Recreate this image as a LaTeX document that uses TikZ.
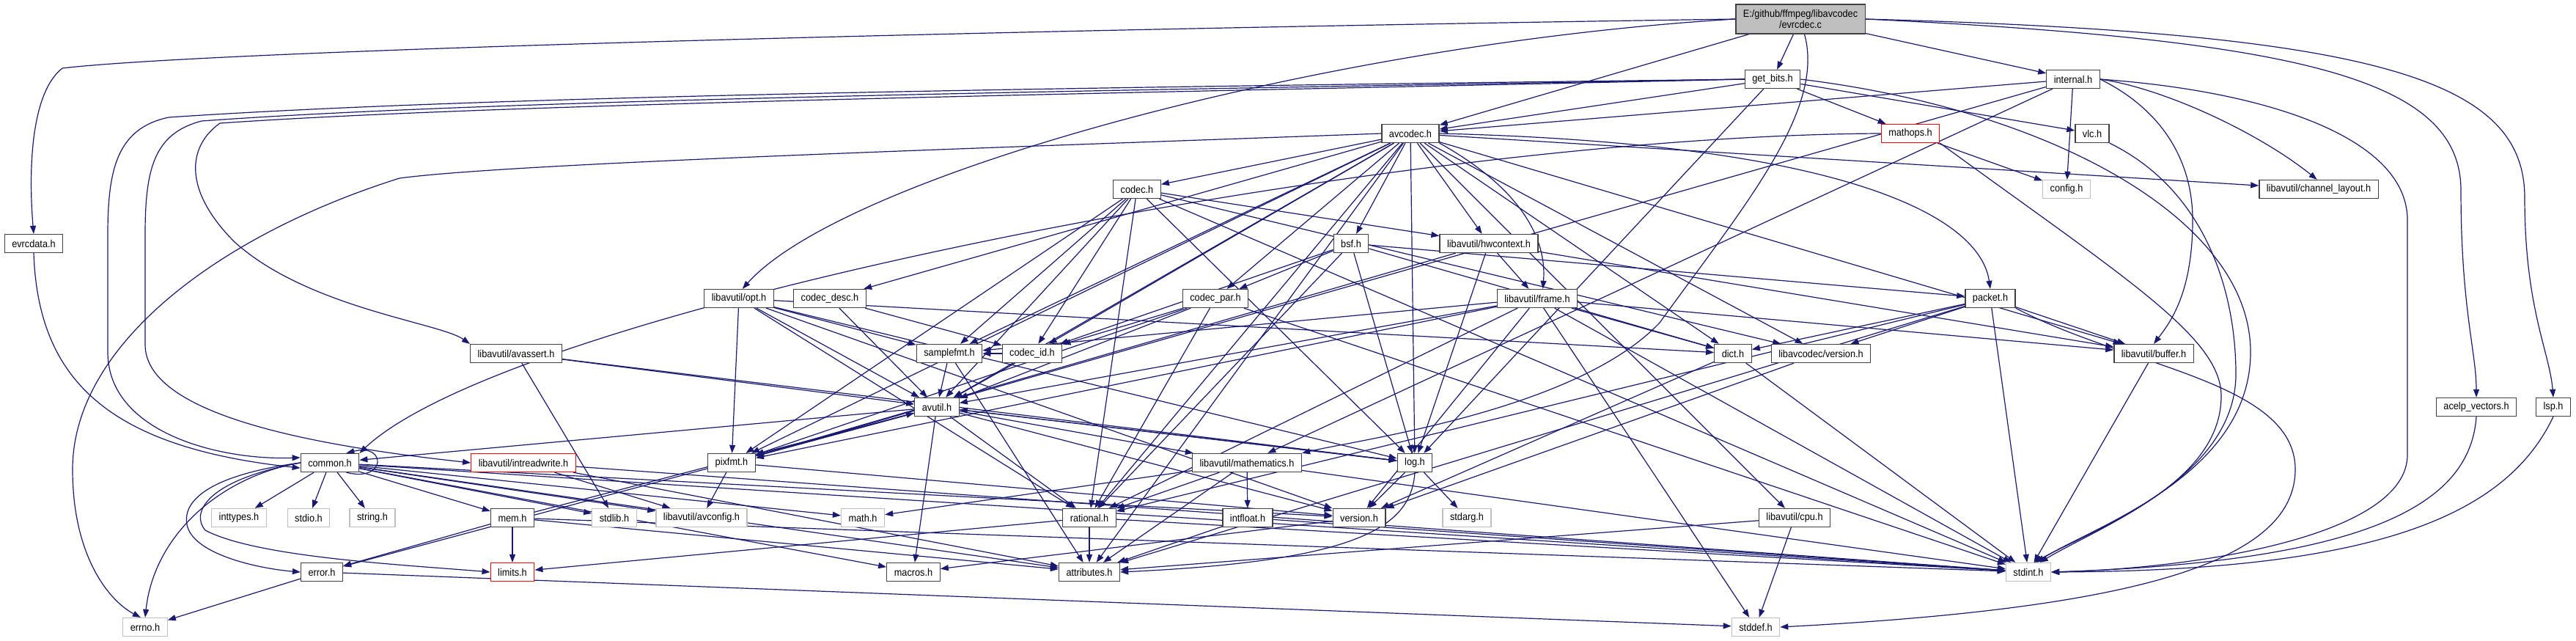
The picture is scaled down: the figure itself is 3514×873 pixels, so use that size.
\documentclass[tikz,border=0pt]{standalone}
\usepackage{fontspec}
\setmainfont{Liberation Sans}[FakeStretch=0.91]
\usetikzlibrary{arrows.meta}
\pgfdeclarelayer{bg}
\pgfsetlayers{bg,main}
\definecolor{edgec}{RGB}{25,25,112}
\definecolor{lgray}{RGB}{191,191,191}
\definecolor{nborder}{RGB}{64,64,64}
\begin{document}
\begin{tikzpicture}[x=1pt,y=-1pt,
  nb/.style={draw=nborder,line width=1.3pt,fill=white,inner xsep=10pt,inner ysep=0pt,
    minimum height=25pt,font=\fontsize{14}{15}\selectfont},
  ng/.style={nb,draw=lgray},
  nr/.style={nb,draw=red},
  edg/.style={draw=edgec,line width=1.2pt,-{Triangle[length=11pt,width=8pt]}}]
\useasboundingbox (0,0) rectangle (3514,873);
% nodes
\node[nb,fill=lgray,align=center,minimum height=40pt] (root) at (2456,26) {E:/github/ffmpeg/libavcodec\\/evrcdec.c};
\node[nb] (evr) at (46,332) {evrcdata.h};
\node[nb] (gb) at (2418,108) {get\_bits.h};
\node[nb] (intl) at (2828,108) {internal.h};
\node[nb] (avc) at (1924,182) {avcodec.h};
\node[nr] (mathops) at (2606,182) {mathops.h};
\node[nb] (vlc) at (2854,182) {vlc.h};
\node[nb] (codec) at (1551,258) {codec.h};
\node[ng] (config) at (2819,258) {config.h};
\node[nb] (chl) at (3163,258) {libavutil/channel\_layout.h};
\node[nb] (bsf) at (1843,332) {bsf.h};
\node[nb] (hwc) at (2031,332) {libavutil/hwcontext.h};
\node[nb] (opt) at (1008,407) {libavutil/opt.h};
\node[nb] (cdesc) at (1132,407) {codec\_desc.h};
\node[nb] (cpar) at (1658,407) {codec\_par.h};
\node[nb] (frame) at (2097,407) {libavutil/frame.h};
\node[nb] (packet) at (2715,407) {packet.h};
\node[nb] (avassert) at (704,482) {libavutil/avassert.h};
\node[nb] (sfmt) at (1295,482) {samplefmt.h};
\node[nb] (cid) at (1408,482) {codec\_id.h};
\node[nb] (dict) at (2364,482) {dict.h};
\node[nb] (lcver) at (2484,482) {libavcodec/version.h};
\node[nb] (buffer) at (2938,482) {libavutil/buffer.h};
\node[nb] (avutil) at (1278,555) {avutil.h};
\node[nb] (acelp) at (3378,555) {acelp\_vectors.h};
\node[nb] (lsp) at (3483,555) {lsp.h};
\node[nb] (common) at (450,631) {common.h};
\node[nr] (irw) at (714,631) {libavutil/intreadwrite.h};
\node[nb] (pixfmt) at (998,631) {pixfmt.h};
\node[nb] (math) at (1701,631) {libavutil/mathematics.h};
\node[nb] (log) at (1930,631) {log.h};
\node[ng] (inttypes) at (326,706) {inttypes.h};
\node[ng] (stdio) at (421,706) {stdio.h};
\node[ng] (string) at (508,706) {string.h};
\node[nb] (mem) at (699,706) {mem.h};
\node[ng] (stdlib) at (838,706) {stdlib.h};
\node[ng] (avconfig) at (957,706) {libavutil/avconfig.h};
\node[ng] (mathh) at (1177,706) {math.h};
\node[nb] (rational) at (1486,706) {rational.h};
\node[nb] (intfloat) at (1702,706) {intfloat.h};
\node[nb] (version) at (1854,706) {version.h};
\node[ng] (stdarg) at (2001,706) {stdarg.h};
\node[nb] (cpu) at (2448,706) {libavutil/cpu.h};
\node[nb] (error) at (439,780) {error.h};
\node[nr] (limits) at (699,780) {limits.h};
\node[nb] (macros) at (1246,780) {macros.h};
\node[nb] (attr) at (1486,780) {attributes.h};
\node[ng] (stdint) at (2767,780) {stdint.h};
\node[ng] (errno) at (198,855) {errno.h};
\node[ng] (stddef) at (2395,855) {stddef.h};
\begin{pgfonlayer}{bg}
\fill[white] (0,0) rectangle (3514,873);
% root
\draw[edg] (root.west) .. controls (1400,40) and (300,68) .. (85,93) .. controls (38,130) and (40,250) .. (evr.north);
\draw[edg] (root.west) .. controls (1800,60) and (1150,240) .. (opt.70);
\draw[edg] (root) -- (avc);
\draw[edg] (root) -- (gb);
\draw[edg] (root) -- (intl);
\draw[edg] (root.285) .. controls (2490,150) and (2380,280) .. (2264,440) .. controls (2150,560) and (1850,600) .. (math.north east);
\draw[edg] (root.east) .. controls (3150,55) and (3357,110) .. (3357,260) .. controls (3357,420) and (3378,480) .. (acelp.north);
\draw[edg] (root.east) .. controls (3250,45) and (3444,110) .. (3444,270) .. controls (3444,420) and (3478,480) .. (lsp.north);
% evrcdata
\draw[edg] (evr.south) .. controls (52,520) and (150,610) .. (common.190);
% get_bits
\draw[edg] (gb) -- (avc);
\draw[edg] (gb.west) .. controls (1600,118) and (700,128) .. (230,160) .. controls (160,175) and (147,230) .. (147,320) -- (147,480) .. controls (147,590) and (300,628) .. (common.170);
\draw[edg] (gb.west) .. controls (1600,122) and (700,134) .. (275,165) .. controls (210,182) and (198,230) .. (198,320) -- (198,470) .. controls (198,570) and (450,610) .. (irw.west);
\draw[edg] (gb.west) .. controls (1600,126) and (700,140) .. (300,168) .. controls (255,200) and (250,260) .. (320,330) .. controls (420,420) and (600,440) .. (avassert.north west);
\draw[edg] (gb) -- (log);
\draw[edg] (gb) -- (mathops);
\draw[edg] (gb) -- (vlc);
\draw[edg] (gb.east) .. controls (2800,150) and (3070,300) .. (3070,480) .. controls (3070,650) and (2850,720) .. (stdint.50);
% internal
\draw[edg] (intl) -- (avc);
\draw[edg] (intl) -- (pixfmt);
\draw[edg] (intl) -- (math);
\draw[edg] (intl.east) .. controls (2950,150) and (2991,220) .. (2991,300) .. controls (2991,400) and (2960,440) .. (buffer.north);
\draw[edg] (intl.east) .. controls (2950,120) and (3080,180) .. (chl.100);
\draw[edg] (intl) -- (config);
\draw[edg] (intl.east) .. controls (3100,125) and (3284,190) .. (3284,300) -- (3284,620) .. controls (3284,730) and (3000,775) .. (stdint.east);
% mathops, vlc
\draw[edg] (mathops) -- (config);
\draw[edg] (mathops.west) .. controls (1900,185) and (700,420) .. (common.north east);
\draw[edg] (mathops.south east) .. controls (2900,380) and (3030,460) .. (3030,540) .. controls (3030,660) and (2860,720) .. (stdint.60);
\draw[edg] (vlc.south east) .. controls (3010,260) and (3050,400) .. (3050,510) .. controls (3050,650) and (2860,720) .. (stdint.40);
% avcodec
\draw[edg] (avc.west) .. controls (1400,200) and (700,222) .. (545,243) .. controls (300,320) and (99,470) .. (99,640) .. controls (99,760) and (150,820) .. (errno.115);
\draw[edg] (avc) -- (sfmt);
\draw[edg] (avc) -- (attr);
\draw[edg] (avc) -- (avutil);
\draw[edg] (avc) -- (buffer);
\draw[edg] (avc) -- (cpu);
\draw[edg] (avc) -- (chl);
\draw[edg] (avc) -- (dict);
\draw[edg] (avc.south east) .. controls (2080,260) and (2110,330) .. (frame.60);
\draw[edg] (avc) -- (hwc);
\draw[edg] (avc) -- (log);
\draw[edg] (avc) -- (pixfmt);
\draw[edg] (avc) -- (rational);
\draw[edg] (avc) -- (bsf);
\draw[edg] (avc) -- (codec);
\draw[edg] (avc) -- (cdesc);
\draw[edg] (avc) -- (cpar);
\draw[edg] (avc) -- (cid);
\draw[edg] (avc.east) .. controls (2500,195) and (2700,290) .. (packet.north);
\draw[edg] (avc) -- (lcver);
% codec
\draw[edg] (codec) -- (stdint);
\draw[edg] (codec) -- (avutil);
\draw[edg] (codec) -- (hwc);
\draw[edg] (codec) -- (log);
\draw[edg] (codec) -- (pixfmt);
\draw[edg] (codec) -- (rational);
\draw[edg] (codec) -- (sfmt);
\draw[edg] (codec) -- (cid);
\draw[edg] (codec) -- (lcver);
% bsf
\draw[edg] (bsf) -- (dict);
\draw[edg] (bsf) -- (log);
\draw[edg] (bsf) -- (rational);
\draw[edg] (bsf) -- (cid);
\draw[edg] (bsf) -- (cpar);
\draw[edg] (bsf) -- (packet);
% hwcontext
\draw[edg] (hwc) -- (buffer);
\draw[edg] (hwc) -- (frame);
\draw[edg] (hwc) -- (log);
\draw[edg] (hwc) -- (pixfmt);
% frame
\draw[edg] (frame) -- (stddef);
\draw[edg] (frame) -- (stdint);
\draw[edg] (frame) -- (avutil);
\draw[edg] (frame) -- (buffer);
\draw[edg] (frame) -- (dict);
\draw[edg] (frame) -- (rational);
\draw[edg] (frame) -- (sfmt);
\draw[edg] (frame) -- (pixfmt);
\draw[edg] (frame) -- (version);
% opt
\draw[edg] (opt) -- (rational);
\draw[edg] (opt) -- (avutil);
\draw[edg] (opt) -- (dict);
\draw[edg] (opt) -- (log);
\draw[edg] (opt) -- (pixfmt);
\draw[edg] (opt) -- (sfmt);
\draw[edg] (opt) -- (version);
% codec_desc, codec_par
\draw[edg] (cdesc) -- (avutil);
\draw[edg] (cdesc) -- (cid);
\draw[edg] (cpar) -- (stdint);
\draw[edg] (cpar) -- (avutil);
\draw[edg] (cpar) -- (rational);
\draw[edg] (cpar) -- (pixfmt);
\draw[edg] (cpar) -- (cid);
% packet
\draw[edg] (packet.south east) .. controls (2900,500) and (3131,520) .. (3131,640) .. controls (3131,770) and (2900,830) .. (stddef.east);
\draw[edg] (packet) -- (stdint);
\draw[edg] (packet) -- (attr);
\draw[edg] (packet) -- (buffer);
\draw[edg] (packet) -- (dict);
\draw[edg] (packet) -- (rational);
\draw[edg] (packet) -- (lcver);
% avassert, samplefmt, codec_id, dict, version, buffer
\draw[edg] (avassert) -- (stdlib);
\draw[edg] (avassert) -- (avutil);
\draw[edg] (avassert) -- (log);
\draw[edg] (sfmt) -- (avutil);
\draw[edg] (sfmt) -- (attr);
\draw[edg] (cid) -- (avutil);
\draw[edg] (cid) -- (sfmt);
\draw[edg] (dict) -- (stdint);
\draw[edg] (dict) -- (version);
\draw[edg] (lcver) -- (version);
\draw[edg] (buffer) -- (stdint);
% avutil
\draw[edg] (avutil) -- (common);
\draw[edg] (avutil) -- (error);
\draw[edg] (avutil) -- (rational);
\draw[edg] (avutil) -- (version);
\draw[edg] (avutil) -- (macros);
\draw[edg] (avutil) -- (math);
\draw[edg] (avutil) -- (log);
\draw[edg] (avutil) -- (pixfmt);
% acelp, lsp
\draw[edg] (acelp.south) .. controls (3370,680) and (3250,765) .. (stdint.east);
\draw[edg] (lsp.south) .. controls (3420,700) and (3250,778) .. (stdint.east);
% common
\draw[edg] (common.west) .. controls (300,650) and (210,730) .. (errno.north);
\draw[edg] (common) -- (inttypes);
\draw[edg] (common.west) .. controls (280,655) and (260,700) .. (280,723) .. controls (350,760) and (550,770) .. (limits.west);
\draw[edg] (common) -- (mathh);
\draw[edg] (common) -- (stdint);
\draw[edg] (common) -- (stdio);
\draw[edg] (common) -- (stdlib);
\draw[edg] (common) -- (string);
\draw[edg] (common) -- (attr);
\draw[edg] (common) -- (macros);
\draw[edg] (common) -- (version);
\draw[edg] (common) -- (avconfig);
\draw[edg] (common) -- (mem);
\draw[edg] (common.west) .. controls (270,650) and (250,690) .. (255,715) .. controls (262,755) and (350,775) .. (error.west);
\draw[edg] ([xshift=-18pt]common.south east) .. controls +(55,14) and +(55,-14) .. ([xshift=-18pt]common.north east);
% mem
\draw[edg] (mem) -- (limits);
\draw[edg] (mem) -- (stdint);
\draw[edg] (mem) -- (attr);
\draw[edg] (mem) -- (error);
\draw[edg] (mem) -- (avutil);
% intreadwrite, pixfmt
\draw[edg] (irw) -- (stdint);
\draw[edg] (irw) -- (avconfig);
\draw[edg] (irw) -- (attr);
\draw[edg] (pixfmt) -- (avconfig);
\draw[edg] (pixfmt) -- (version);
% mathematics
\draw[edg] (math) -- (stdint);
\draw[edg] (math) -- (mathh);
\draw[edg] (math) -- (attr);
\draw[edg] (math) -- (rational);
\draw[edg] (math) -- (intfloat);
% log
\draw[edg] (log) -- (stdarg);
\draw[edg] (log) -- (avutil);
\draw[edg] (log.south) .. controls (1925,720) and (1850,765) .. (attr.east);
\draw[edg] (log) -- (version);
% rational, intfloat, version, cpu, error
\draw[edg] (rational) -- (stdint);
\draw[edg] (rational) -- (limits);
\draw[edg] (rational) -- (attr);
\draw[edg] (intfloat) -- (stdint);
\draw[edg] (intfloat) -- (attr);
\draw[edg] (version) -- (macros);
\draw[edg] (cpu) -- (stddef);
\draw[edg] (cpu) -- (attr);
\draw[edg] (error) -- (errno);
\draw[edg] (error) -- (stddef);
\end{pgfonlayer}
\end{tikzpicture}
\end{document}
